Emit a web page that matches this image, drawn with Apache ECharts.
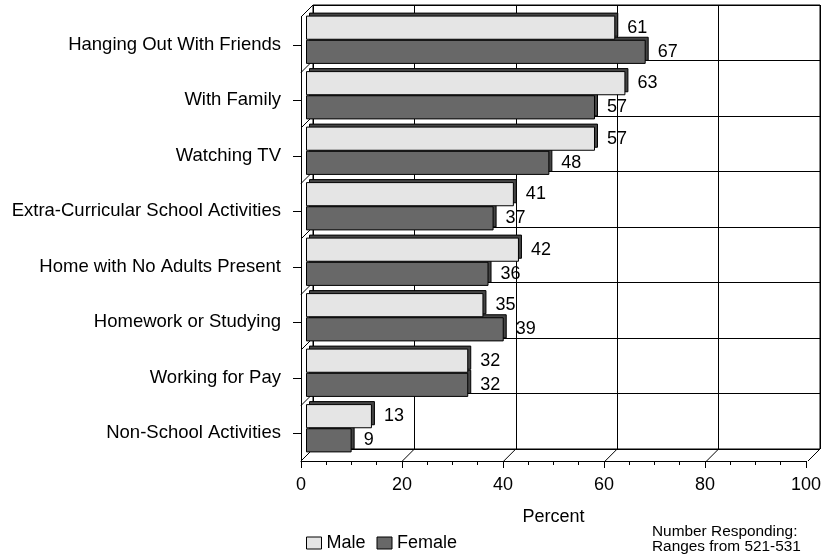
<!DOCTYPE html>
<html>
<head>
<meta charset="utf-8">
<script src="https://cdn.jsdelivr.net/npm/echarts@6/dist/echarts.min.js"></script>
<style>
html,body{margin:0;padding:0;background:#fff;}
#chart{width:824px;height:555px;}
</style>
</head>
<body>
<div id="chart"></div>
<script>
const categories = ['Hanging Out With Friends','With Family','Watching TV','Extra-Curricular School Activities','Home with No Adults Present','Homework or Studying','Working for Pay','Non-School Activities'];
const male = [61,63,57,41,42,35,32,13];
const female = [67,57,48,37,36,39,32,9];
const seriesNames = ['Male','Female'];
const xMin = 0, xMax = 100, xStep = 20;
const note = 'Number Responding:\nRanges from 521-531';
const axisName = 'Percent';

// layout constants
const FONT = '"Liberation Sans", Arial, sans-serif';
const FL = 301, FT = 17, W = 507, H = 444, D = 12, B = 5, S = 3;

const chart = echarts.init(document.getElementById('chart'), null, {renderer:'canvas'});

// depth slants (decoration), derived from layout + tick values
const graphics = [];
const h = H / categories.length;
for (let k = 0; k <= categories.length; k++) {
  graphics.push({type:'line', z:1, shape:{x1:FL, y1:FT + k*h, x2:FL + D, y2:FT - D + k*h}, style:{stroke:'#000', lineWidth:1}});
}
for (let v = xMin; v <= xMax; v += xStep) {
  const x = FL + (v - xMin) / (xMax - xMin) * W;
  graphics.push({type:'line', z:1, shape:{x1:x, y1:FT + H, x2:x + D, y2:FT + H - D}, style:{stroke:'#000', lineWidth:1}});
}

const labelStyle = {show:true, position:'right', distance:12, fontSize:18, color:'#000', fontFamily:FONT};
const common = {type:'bar', barGap:'0%', barCategoryGap:'13%'};

const option = {
  animation:false,
  backgroundColor:'#fff',
  textStyle:{fontFamily:FONT, color:'#000'},
  title:{text:note, left:652, top:524, padding:0, textStyle:{fontSize:15.4, fontWeight:'normal', color:'#000', lineHeight:15, fontFamily:FONT}},
  legend:{
    data:seriesNames, left:306, top:534, padding:0, icon:'rect', itemWidth:15, itemHeight:12, itemGap:11,
    textStyle:{fontSize:18, color:'#000', fontFamily:FONT},
    itemStyle:{borderColor:'#000', borderWidth:1}
  },
  graphic: graphics,
  grid:[
    {left:FL + D, top:FT - D, width:W, height:H, show:true, borderColor:'#000', borderWidth:1, backgroundColor:'rgba(0,0,0,0)'},
    {left:FL + B, top:FT - B, width:W, height:H},
    {left:FL, top:FT, width:W, height:H},
    {left:FL + B + S, top:FT - B - S, width:W, height:H}
  ],
  xAxis:[
    {gridIndex:0, type:'value', min:xMin, max:xMax, interval:xStep, axisLine:{show:false}, axisTick:{show:false}, axisLabel:{show:false},
     splitLine:{show:true, lineStyle:{color:'#000', width:1}}},
    {gridIndex:1, type:'value', min:xMin, max:xMax, interval:xStep, show:false},
    {gridIndex:2, type:'value', min:xMin, max:xMax, interval:xStep,
     axisLine:{show:true, lineStyle:{color:'#000', width:1}},
     axisTick:{show:true, length:7, lineStyle:{color:'#000'}},
     minorTick:{show:true, splitNumber:4, length:4, lineStyle:{color:'#000'}},
     axisLabel:{fontSize:18, color:'#000', margin:15, fontFamily:FONT},
     splitLine:{show:false},
     name:axisName, nameLocation:'middle', nameGap:47, nameTextStyle:{fontSize:18, color:'#000', fontFamily:FONT}},
    {gridIndex:3, type:'value', min:xMin, max:xMax, interval:xStep, show:false}
  ],
  yAxis:[
    {gridIndex:0, type:'category', inverse:true, data:categories, axisLine:{show:false}, axisTick:{show:false}, axisLabel:{show:false},
     splitLine:{show:true, interval:0, lineStyle:{color:'#000', width:1}}},
    {gridIndex:1, type:'category', inverse:true, data:categories, show:false},
    {gridIndex:2, type:'category', inverse:true, data:categories,
     axisLine:{show:true, lineStyle:{color:'#000', width:1}},
     axisTick:{show:true, alignWithLabel:true, length:8, lineStyle:{color:'#000'}},
     axisLabel:{fontSize:18.5, color:'#000', margin:20, fontFamily:FONT, interval:0},
     splitLine:{show:false}},
    {gridIndex:3, type:'category', inverse:true, data:categories, show:false}
  ],
  series:[
    // depth (3D side/top) of bars
    Object.assign({name:'Male depth', xAxisIndex:3, yAxisIndex:3, data:male, z:5, silent:true,
     itemStyle:{color:'#444', borderColor:'#000', borderWidth:1}}, common),
    Object.assign({name:'Female depth', xAxisIndex:3, yAxisIndex:3, data:female, z:3, silent:true,
     itemStyle:{color:'#444', borderColor:'#000', borderWidth:1}}, common),
    // bar faces
    Object.assign({name:seriesNames[0], xAxisIndex:1, yAxisIndex:1, data:male, z:6,
     itemStyle:{color:'#e5e5e5', borderColor:'#000', borderWidth:1}, label:labelStyle}, common),
    Object.assign({name:seriesNames[1], xAxisIndex:1, yAxisIndex:1, data:female, z:4,
     itemStyle:{color:'#686868', borderColor:'#000', borderWidth:1}, label:labelStyle}, common)
  ]
};
chart.setOption(option);
</script>
</body>
</html>
